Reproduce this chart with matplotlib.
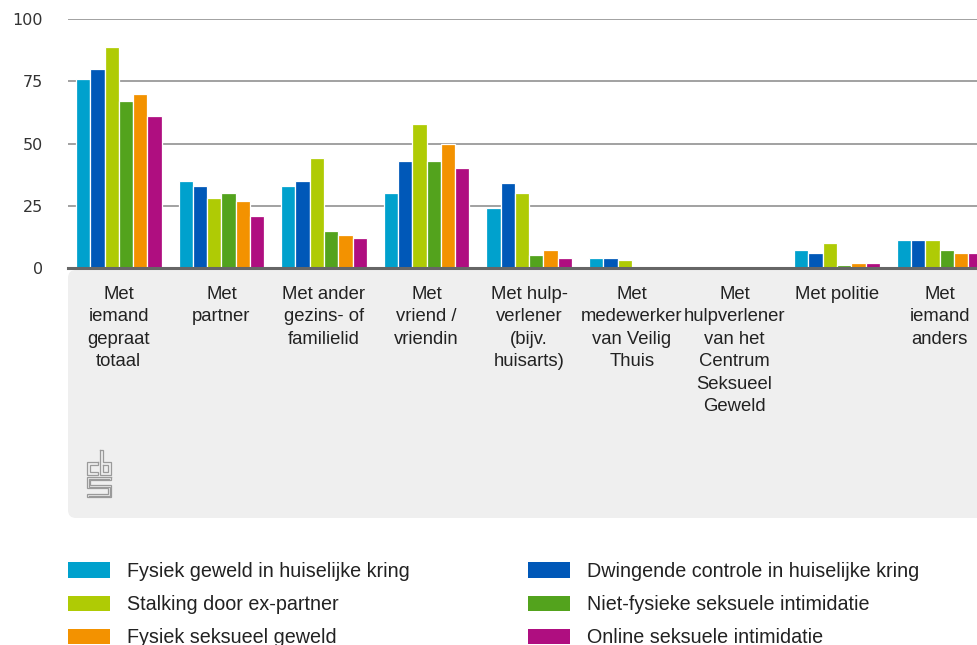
import matplotlib
matplotlib.use("Agg")
import matplotlib.pyplot as plt
from matplotlib.patches import FancyBboxPatch, Patch
import numpy as np

# Categories (x axis) and percentage per type of violence
categories = [
    "Met\niemand\ngepraat\ntotaal",
    "Met\npartner",
    "Met ander\ngezins- of\nfamilielid",
    "Met\nvriend /\nvriendin",
    "Met hulp-\nverlener\n(bijv.\nhuisarts)",
    "Met\nmedewerker\nvan Veilig\nThuis",
    "Met\nhulpverlener\nvan het\nCentrum\nSeksueel\nGeweld",
    "Met politie",
    "Met\niemand\nanders",
]

nan = np.nan
fysiek_geweld = [76, 35, 33, 30, 24, 4, nan, 7, 11]
dwingende_controle = [80, 33, 35, 43, 34, 4, nan, 6, 11]
stalking = [89, 28, 44, 58, 30, 3, nan, 10, 11]
niet_fysiek_seksueel = [67, 30, 15, 43, 5, nan, nan, 1, 7]
fysiek_seksueel = [70, 27, 13, 50, 7, nan, nan, 2, 6]
online_seksueel = [61, 21, 12, 40, 4, nan, nan, 2, 6]

series_names = [
    "Fysiek geweld in huiselijke kring",
    "Dwingende controle in huiselijke kring",
    "Stalking door ex-partner",
    "Niet-fysieke seksuele intimidatie",
    "Fysiek seksueel geweld",
    "Online seksuele intimidatie",
]
series_values = [fysiek_geweld, dwingende_controle, stalking,
                 niet_fysiek_seksueel, fysiek_seksueel, online_seksueel]
colors = ["#00a1cd", "#0058b8", "#afcb05", "#53a31d", "#f39200", "#af0e80"]

y_ticks = [0, 25, 50, 75, 100]

W, H = 977, 645
fig = plt.figure(figsize=(W / 100, H / 100), dpi=100)

text_font = ["Liberation Sans", "DejaVu Sans"]

# background layer in pixel units: grey panel + logo
bg = fig.add_axes([0, 0, 1, 1], zorder=0)
bg.set_xlim(0, W)
bg.set_ylim(H, 0)
bg.axis("off")
panel = FancyBboxPatch((68, 270), 1000, 248,
                       boxstyle="round,pad=0,rounding_size=8",
                       facecolor="#efefef", edgecolor="none")
bg.add_patch(panel)

# cbs logo (outline style)
lx, ly = 87, 450
logo_paths = [
    # c
    [(11, 12), (0, 12), (0, 25), (11, 25), (11, 22), (3, 22), (3, 15), (11, 15), (11, 12)],
    # b
    [(13, 0), (13, 25), (24, 25), (24, 12), (16, 12), (16, 0), (13, 0)],
    [(16, 15), (21, 15), (21, 22), (16, 22), (16, 15)],
    # s
    [(24, 27), (0, 27), (0, 38), (21, 38), (21, 44), (0, 44), (0, 47),
     (24, 47), (24, 35), (3, 35), (3, 30), (24, 30), (24, 27)],
    [(22, 28.5), (1.5, 28.5), (1.5, 36.5), (22.5, 36.5), (22.5, 45.5), (1.5, 45.5)],
]
for path in logo_paths:
    xs = [lx + p[0] for p in path]
    ys = [ly + p[1] for p in path]
    bg.plot(xs, ys, color="#9a9a9a", lw=0.9, solid_joinstyle="miter")

# main chart
left_px, right_px = 67.5, 67.5 + 9 * 102.6
top_px, bottom_px = 19.3, 267.8
ax = fig.add_axes([left_px / W, 1 - bottom_px / H,
                   (right_px - left_px) / W, (bottom_px - top_px) / H], zorder=2)
ax.patch.set_alpha(0)

x = np.arange(len(categories))
slot = 0.139
for k, (vals, col) in enumerate(zip(series_values, colors)):
    ax.bar(x + (k - 2.5) * slot, vals, width=slot, color=col,
           edgecolor="white", linewidth=0.9, zorder=3)

ax.set_xlim(-0.5, len(categories) - 0.5)
ax.set_ylim(0, 100)
ax.set_yticks(y_ticks)
ax.set_yticklabels([str(t) for t in y_ticks], fontsize=11.5, color="#333333",
                   family="DejaVu Sans")
ax.yaxis.grid(True, color="#9a9a9a", linewidth=1.3)
ax.set_axisbelow(True)
ax.axhline(0, color="#666666", linewidth=2.2, zorder=4, clip_on=False)
for s in ax.spines.values():
    s.set_visible(False)
ax.tick_params(axis="y", length=0, pad=17.5)
ax.tick_params(axis="x", length=0, pad=13)
ax.set_xticks(x)
ax.set_xticklabels(categories, fontsize=13.3, color="#222222",
                   family=text_font, linespacing=1.42, va="top")

# legend in two columns
handles = [Patch(facecolor=c, edgecolor="none") for c in colors]
leg_kw = dict(frameon=False, handlelength=2.15, handleheight=0.85,
              handletextpad=0.85, labelspacing=0.72, borderpad=0, borderaxespad=0,
              loc="upper left", prop={"family": text_font, "size": 14.2})
order_left = [0, 2, 4]
order_right = [1, 3, 5]
leg1 = fig.legend([handles[i] for i in order_left], [series_names[i] for i in order_left],
                  bbox_to_anchor=(68 / W, 1 - 562 / H), **leg_kw)
leg2 = fig.legend([handles[i] for i in order_right], [series_names[i] for i in order_right],
                  bbox_to_anchor=(528 / W, 1 - 562 / H), **leg_kw)
for leg in (leg1, leg2):
    for t in leg.get_texts():
        t.set_color("#222222")

fig.savefig("out.png", dpi=100)
